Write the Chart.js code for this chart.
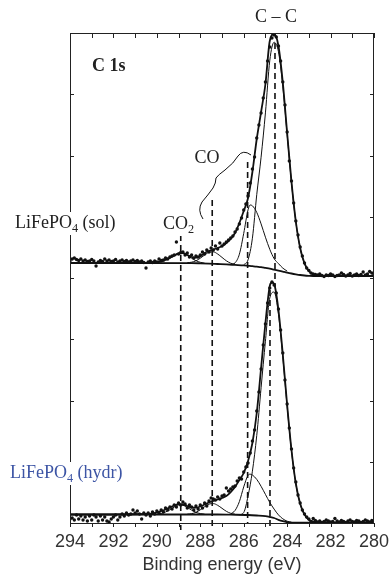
<!DOCTYPE html>
<html>
<head>
<meta charset="utf-8">
<script src="https://cdn.jsdelivr.net/npm/chart.js@4/dist/chart.umd.min.js"></script>
<style>
  html, body { margin: 0; padding: 0; background: #fff; }
  canvas { display: block; }
</style>
</head>
<body>
<canvas id="xps" width="390" height="579"></canvas>
<script>
// C 1s spectra, intensity in arbitrary units

// measured points, one every 0.1 eV
const dataE = [
  280.0, 280.1, 280.2, 280.3, 280.4, 280.5, 280.6, 280.7, 280.8, 280.9,
  281.0, 281.1, 281.2, 281.3, 281.4, 281.5, 281.6, 281.7, 281.8, 281.9,
  282.0, 282.1, 282.2, 282.3, 282.4, 282.5, 282.6, 282.7, 282.8, 282.9,
  283.0, 283.1, 283.2, 283.3, 283.4, 283.5, 283.6, 283.7, 283.8, 283.9,
  284.0, 284.1, 284.2, 284.3, 284.4, 284.5, 284.6, 284.7, 284.8, 284.9,
  285.0, 285.1, 285.2, 285.3, 285.4, 285.5, 285.6, 285.7, 285.8, 285.9,
  286.0, 286.1, 286.2, 286.3, 286.4, 286.5, 286.6, 286.7, 286.8, 286.9,
  287.0, 287.1, 287.2, 287.3, 287.4, 287.5, 287.6, 287.7, 287.8, 287.9,
  288.0, 288.1, 288.2, 288.3, 288.4, 288.5, 288.6, 288.7, 288.8, 288.9,
  289.0, 289.1, 289.2, 289.3, 289.4, 289.5, 289.6, 289.7, 289.8, 289.9,
  290.0, 290.1, 290.2, 290.3, 290.4, 290.5, 290.6, 290.7, 290.8, 290.9,
  291.0, 291.1, 291.2, 291.3, 291.4, 291.5, 291.6, 291.7, 291.8, 291.9,
  292.0, 292.1, 292.2, 292.3, 292.4, 292.5, 292.6, 292.7, 292.8, 292.9,
  293.0, 293.1, 293.2, 293.3, 293.4, 293.5, 293.6, 293.7, 293.8, 293.9,
  294.0
];

const solDots = [
  248.5, 250, 251.5, 249, 248, 251, 248.5, 247.5, 249, 248,
  247, 249.5, 248, 247, 248.5, 250, 248, 247.5, 246.5, 248,
  249, 247.5, 248, 246.5, 247.5, 249, 248, 248.5, 249, 250,
  252.5, 255, 260, 267, 276, 288, 302, 320, 342, 362,
  391, 418, 441, 462, 477, 486, 488, 485, 476, 462,
  441, 425, 410, 398, 385, 366, 354, 340, 327, 319,
  313, 305, 299, 294, 291, 287, 285, 283, 281, 279,
  277, 280, 274, 277, 273, 275, 271, 273, 269, 271,
  268, 266, 267, 265, 268, 266, 270, 268, 271, 270.5,
  269, 281, 268, 267, 266, 264, 265, 263, 262.5, 264,
  261, 262, 260.5, 262, 261, 255, 260.5, 262, 261, 262.5,
  261.5, 263, 262, 261, 262.5, 261.5, 263, 262, 261, 263.5,
  262, 261.5, 263, 262, 264, 261.5, 262.5, 261, 257, 262,
  263.5, 262, 261.5, 263, 262, 264, 262.5, 263.5, 265, 264,
  262
];

const hydDots = [
  1.5, 2.5, 1, 2, 3, 1.5, 0.5, 2, 2.5, 1,
  1.5, 3, 2, 0.5, 1.5, 2.5, 1, 2, 4.5, 1.5,
  1, 2, 3, 1.5, 0.5, 2, 1, 2.5, 4.5, 1.5,
  4, 6, 9, 13, 20, 28, 41, 55, 74, 95,
  119, 143, 170, 193, 214, 230, 238, 241, 235, 220,
  199, 178, 154, 131, 112, 93, 82, 70, 60, 56,
  51, 44, 45, 42, 37, 36, 34, 32, 35, 28,
  27, 24, 26, 23, 24, 25, 22, 17, 20, 15,
  18, 14, 17, 13, 16, 18, 15, 19, 21, 18,
  20, 16, 18, 14, 16, 13, 15, 11, 13, 10,
  12, 9, 11, 7, 10, 8, 10, 4, 9, 12,
  10, 13, 9, 8, 10, 7, 9, 6, 3, 8,
  6, 4, 1, 2, 6, 3, 7, 2, 6, 8,
  3, 7, 2, 6, 3, 7, 4, 8, 3, 5,
  4
];

// LiFePO4 (sol) fit
const solEnvE = [280, 282.6, 282.8, 283.0, 283.2, 283.4, 283.6, 283.8, 284.0, 284.2,
  284.4, 284.6, 284.8, 285.0, 285.2, 285.4, 285.6, 285.8, 286.0, 286.2,
  286.4, 286.6, 286.8, 287.0, 287.2, 287.4, 287.6, 287.8, 288.0, 288.2,
  288.4, 288.6, 288.8, 289.0, 289.2, 289.4, 289.6, 289.8, 290.0, 290.2, 290.4, 294];
const solEnv = [247, 247.4, 248.6, 252, 259.6, 275, 301.5, 341.2, 390, 440.3,
  477, 489, 482, 439, 411, 384, 351, 325, 312, 300,
  290, 284, 280, 277, 275, 273.5, 272, 270, 266.5, 265.4,
  266, 268, 269.8, 269.5, 267.5, 265.2, 263.5, 262, 261, 260.4, 260, 260];
const solBgE = [280, 282.8, 283.0, 283.2, 283.4, 283.6, 283.8, 284.0, 284.2, 284.4, 284.6, 284.8,
  285.0, 285.2, 285.4, 285.6, 285.8, 286.0, 286.4, 286.8, 287.2, 287.6, 288.0, 288.4, 294];
const solBg = [247, 247, 247.2, 247.5, 248, 248.7, 249.5, 250.4, 251.4, 252.4, 253.4, 254.4,
  255.1, 255.8, 256.3, 256.8, 257.2, 257.6, 258.1, 258.6, 259, 259.4, 259.7, 259.9, 260];
const solCcE = [282.6, 282.8, 283.0, 283.2, 283.4, 283.6, 283.8, 284.0, 284.2, 284.4,
  284.6, 284.8, 285.0, 285.2, 285.4, 285.6, 285.8, 286.0];
const solCc = [247.5, 248.6, 252, 259.4, 274.7, 301.1, 340.2, 388.6, 436.8, 471.3,
  480.7, 462.4, 410.1, 365.8, 328.3, 284.8, 263.2, 258.1];
const solCoE = [284.0, 284.2, 284.4, 284.6, 284.8, 285.0, 285.2, 285.4, 285.6, 285.7,
  285.8, 286.0, 286.2, 286.4, 286.6];
const solCo = [251.9, 254.9, 259.4, 264.4, 273.7, 285.8, 299.1, 310.6, 317.2, 318,
  313.2, 289.6, 268.8, 260.1, 258.4];
const solCoxE = [286.4, 286.6, 286.8, 287.0, 287.2, 287.4, 287.6, 287.8, 288.0, 288.2, 288.4, 288.6];
const solCox = [258.6, 259.8, 262.2, 265.6, 269, 271.1, 270.7, 268, 264.8, 262.2, 260.8, 260.3];
const solCo2E = [287.8, 288.0, 288.2, 288.4, 288.6, 288.8, 289.0, 289.2, 289.4, 289.6, 289.8, 290.0];
const solCo2 = [259.8, 260.7, 262.3, 264.8, 267.7, 269.7, 269.7, 267.7, 264.9, 262.5, 261, 260.3];

// LiFePO4 (hydr) fit
const hydEnvE = [280, 282.6, 282.8, 283.0, 283.2, 283.4, 283.6, 283.8, 284.0, 284.2,
  284.4, 284.6, 284.7, 284.8, 285.0, 285.2, 285.4, 285.6, 285.8, 286.0,
  286.2, 286.4, 286.6, 286.8, 287.0, 287.2, 287.4, 287.6, 287.8, 288.0,
  288.2, 288.4, 288.6, 288.8, 289.0, 289.2, 289.4, 289.6, 289.8, 290.0, 290.4, 294];
const hydEnv = [0.3, 0.8, 1.5, 3.3, 8.4, 19.2, 39.5, 73, 118, 168.5,
  213, 239, 240.5, 237, 200, 155, 110, 80, 62, 50,
  43, 36, 31, 27, 25, 23.5, 22, 20.5, 18.5, 16.5,
  15.3, 15.5, 17, 18.5, 18.8, 17.5, 15.5, 13.5, 12, 10.5, 9, 8.5];
const hydBgE = [280, 283.6, 283.8, 284.0, 284.2, 284.4, 284.6, 284.8, 285.0, 285.4, 285.8, 286.6, 287.2, 294];
const hydBg = [0.3, 0.3, 0.4, 0.8, 1.8, 3.2, 5, 6, 6.8, 7.5, 8, 8.3, 8.5, 8.5];
const hydCcE = [282.6, 282.8, 283.0, 283.2, 283.4, 283.6, 283.8, 284.0, 284.2, 284.4,
  284.6, 284.8, 285.0, 285.2, 285.4, 285.6, 285.8, 286.0, 286.2];
const hydCc = [0.5, 1.4, 3.2, 8.3, 19.1, 39.3, 72.2, 116.5, 166.1, 208.6,
  231, 225, 181.8, 135.2, 87.5, 51.8, 27, 10.5, 8.2];
const hydCoE = [283.8, 284.0, 284.2, 284.4, 284.6, 284.8, 285.0, 285.2, 285.4, 285.6,
  285.7, 285.8, 286.0, 286.2, 286.4, 286.6];
const hydCo = [0.8, 1.8, 4.2, 8.1, 13.9, 20.6, 28.6, 36.7, 43.6, 48,
  48.8, 47.7, 36.1, 21.4, 12.5, 9.1];
const hydCoxE = [286.4, 286.6, 286.8, 287.0, 287.2, 287.4, 287.6, 287.8, 288.0, 288.2, 288.4, 288.6];
const hydCox = [8.8, 9.7, 11.7, 14.7, 17.7, 19.4, 18.9, 16.3, 13.2, 10.7, 9.3, 8.8];
const hydCo2E = [287.8, 288.0, 288.2, 288.4, 288.6, 288.8, 289.0, 289.2, 289.4, 289.6, 289.8, 290.0];
const hydCo2 = [8.8, 9.4, 10.7, 12.9, 15.6, 17.7, 17.9, 16, 13.3, 11, 9.5, 8.8];

// dashed guide lines: position, upper end, lower end
const guideE = [288.9, 287.45, 285.82, 284.56, 284.79];
const guideTop = [288, 323, 361, 480, 233];
const guideBottom = [-7, -7, 0, 236, -7];

const tickFont = '"Liberation Sans", Arial, sans-serif';
const serif = '"Liberation Serif", "Times New Roman", serif';

const pts = (es, vs) => es.map((e, i) => ({x: e, y: vs[i]}));

const curve = (es, vs, w) => ({
  data: pts(es, vs),
  borderColor: '#111',
  borderWidth: w,
  pointRadius: 0,
  cubicInterpolationMode: 'monotone',
  fill: false
});

const dots = vs => ({
  data: pts(dataE, vs),
  showLine: false,
  pointRadius: 1.7,
  pointBorderWidth: 0,
  pointBackgroundColor: '#111'
});

const guides = guideE.map((e, i) => ({
  data: [{x: e, y: guideTop[i]}, {x: e, y: guideBottom[i]}],
  borderColor: '#111',
  borderWidth: 1.6,
  borderDash: [6, 4],
  pointRadius: 0,
  clip: false
}));

// text with a subscript part, on a white patch (breaks the frame like the original)
function label(ctx, parts, x, y, color, size) {
  let w = 0;
  parts.forEach(p => {
    ctx.font = (p[1] ? size * 0.68 : size) + 'px ' + serif;
    w += ctx.measureText(p[0]).width;
  });
  ctx.fillStyle = '#fff';
  ctx.fillRect(x - 2, y - size + 2, w + 4, size + 5);
  ctx.fillStyle = color;
  ctx.textBaseline = 'alphabetic';
  ctx.textAlign = 'left';
  parts.forEach(p => {
    ctx.font = (p[1] ? size * 0.68 : size) + 'px ' + serif;
    ctx.fillText(p[0], x, p[1] ? y + 4 : y);
    x += ctx.measureText(p[0]).width;
  });
}

const decor = {
  id: 'decor',
  afterDatasetsDraw(chart) {
    const {ctx, chartArea: a, scales: {x, y}} = chart;
    ctx.save();
    ctx.strokeStyle = '#222';
    ctx.lineWidth = 1;
    ctx.strokeRect(a.left + 0.5, a.top + 0.5, a.right - a.left - 1, a.bottom - a.top);

    ctx.beginPath();
    x.ticks.forEach(t => {
      const px = Math.round(x.getPixelForValue(t.value)) + 0.5;
      ctx.moveTo(px, a.top);
      ctx.lineTo(px, a.top + 5);
      ctx.moveTo(px, a.bottom);
      ctx.lineTo(px, a.bottom + 4);
    });
    y.ticks.forEach(t => {
      if (t.value <= 0 || t.value >= y.max) return;
      const py = Math.round(y.getPixelForValue(t.value)) + 0.5;
      ctx.moveTo(a.left, py);
      ctx.lineTo(a.left + 4, py);
      ctx.moveTo(a.right - 4, py);
      ctx.lineTo(a.right, py);
    });
    ctx.stroke();

    // curly brace grouping the CO components
    ctx.beginPath();
    ctx.lineWidth = 1;
    ctx.strokeStyle = '#111';
    ctx.moveTo(203, 219);
    ctx.quadraticCurveTo(197, 210, 202, 202);
    ctx.quadraticCurveTo(208, 195, 213, 188);
    ctx.quadraticCurveTo(216, 183, 216, 178);
    ctx.quadraticCurveTo(218, 175, 225, 170);
    ctx.quadraticCurveTo(234, 163, 238, 156);
    ctx.quadraticCurveTo(243, 149, 251, 155);
    ctx.stroke();

    ctx.fillStyle = '#222';
    ctx.textBaseline = 'alphabetic';
    ctx.textAlign = 'center';
    ctx.font = '18px ' + serif;
    ctx.fillText('C \u2013 C', x.getPixelForValue(284.51), 22);
    ctx.fillText('CO', x.getPixelForValue(287.69), 163);
    ctx.textAlign = 'left';
    ctx.font = 'bold 18px ' + serif;
    ctx.fillText('C 1s', 92, 71);

    label(ctx, [['CO', false], ['2', true]], 163, 229, '#222', 18);
    label(ctx, [['LiFePO', false], ['4', true], [' (sol)', false]], 15, 228, '#222', 18);
    label(ctx, [['LiFePO', false], ['4', true], [' (hydr)', false]], 10, 478, '#3d55a5', 18);
    ctx.restore();
  }
};

new Chart(document.getElementById('xps'), {
  type: 'line',
  data: {
    datasets: [
      dots(solDots), dots(hydDots),
      curve(solEnvE, solEnv, 1.8), curve(solBgE, solBg, 1.8),
      curve(solCcE, solCc, 1), curve(solCoE, solCo, 1),
      curve(solCoxE, solCox, 1), curve(solCo2E, solCo2, 1),
      curve(hydEnvE, hydEnv, 1.8), curve(hydBgE, hydBg, 1.8),
      curve(hydCcE, hydCc, 1), curve(hydCoE, hydCo, 1),
      curve(hydCoxE, hydCox, 1), curve(hydCo2E, hydCo2, 1),
      ...guides
    ]
  },
  options: {
    responsive: false,
    animation: false,
    devicePixelRatio: 1,
    layout: {padding: {left: 70, right: 16, top: 33, bottom: 0}},
    plugins: {legend: {display: false}, tooltip: {enabled: false}},
    scales: {
      x: {
        type: 'linear',
        min: 280,
        max: 294,
        reverse: true,
        grid: {display: false, drawTicks: false},
        border: {display: false},
        ticks: {
          stepSize: 1,
          autoSkip: false,
          maxRotation: 0,
          padding: 8,
          color: '#333',
          font: {family: tickFont, size: 18},
          callback: v => (v % 2 === 0 ? String(v) : '')
        },
        title: {
          display: true,
          text: 'Binding energy (eV)',
          color: '#333',
          font: {family: tickFont, size: 18},
          padding: {top: 0, bottom: 3}
        },
        afterFit(s) {
          s.height = 56;
          s.paddingLeft = 0;
          s.paddingRight = 0;
        }
      },
      y: {
        display: false,
        min: 0,
        max: 490,
        ticks: {stepSize: 61.25}
      }
    }
  },
  plugins: [decor]
});
</script>
</body>
</html>
